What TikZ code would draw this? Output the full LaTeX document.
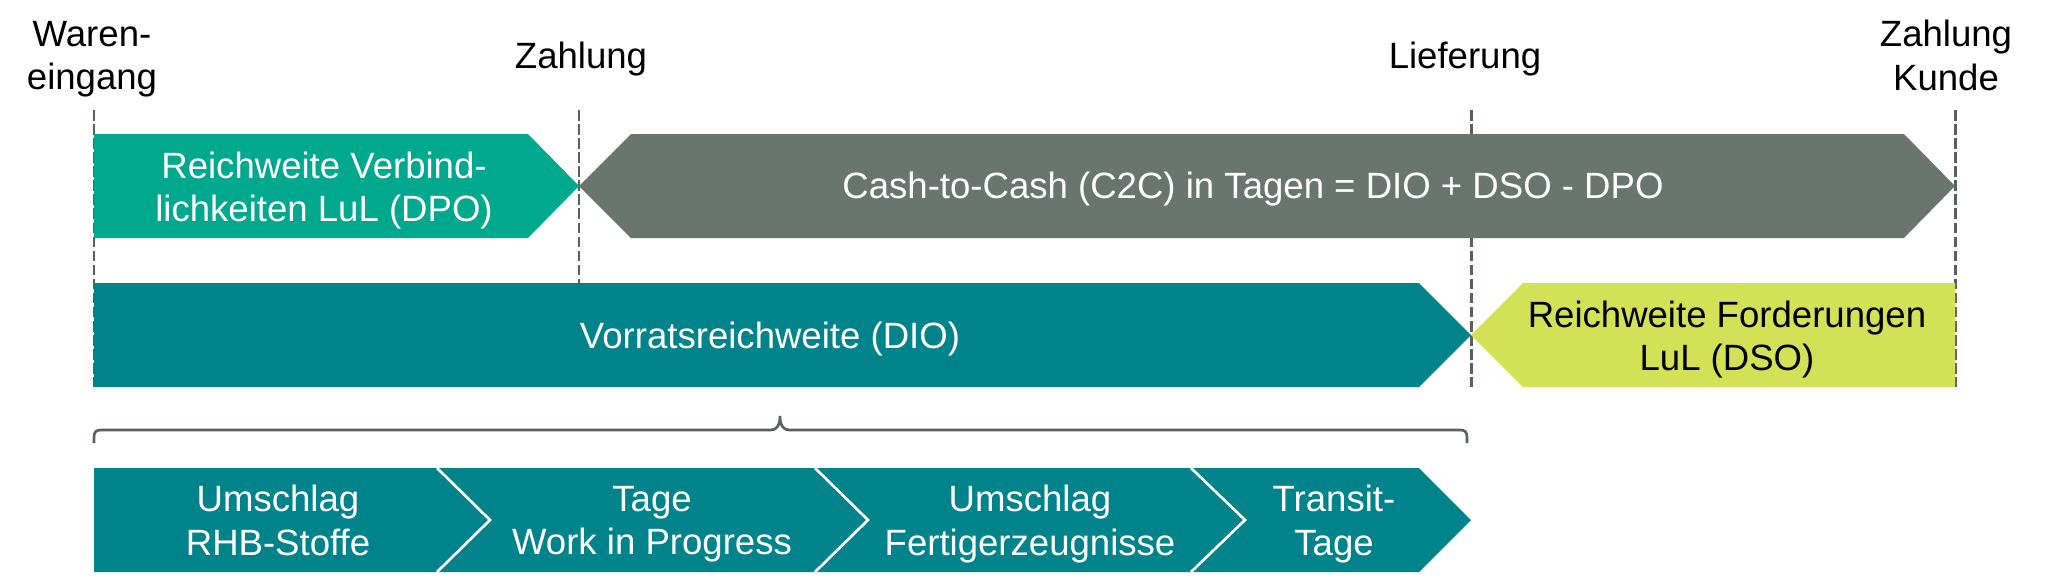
\documentclass[tikz,border=0pt]{standalone}
\usepackage{fontspec}
\setmainfont{Liberation Sans}
\definecolor{dpocol}{RGB}{0,168,142}
\definecolor{ctwoc}{RGB}{107,117,112}
\definecolor{diocol}{RGB}{0,131,138}
\definecolor{dsocol}{RGB}{211,225,86}
\definecolor{guide}{RGB}{86,98,94}
\tikzset{
  lbl/.style={inner sep=0pt, font=\fontsize{10.4pt}{12.4pt}\selectfont, align=center},
  wlbl/.style={lbl, text=white},
  blbl/.style={lbl, text=black},
  guideline/.style={draw=guide, line width=0.85pt, dash pattern=on 3pt off 1pt},
  divider/.style={draw=white, line width=0.75pt},
  bracestyle/.style={draw=guide, line width=0.75pt}
}
\begin{document}
\begin{tikzpicture}[x=0.01cm, y=-0.01cm]
\useasboundingbox (0,0) rectangle (2047,587);
% guide lines
\coordinate (g1t) at (94,110);  \coordinate (g1b) at (94,387);
\coordinate (g2t) at (579,110); \coordinate (g2b) at (579,387);
\coordinate (g3t) at (1471,110); \coordinate (g3b) at (1471,387);
\coordinate (g4t) at (1955,110); \coordinate (g4b) at (1955,387);
\draw[guideline] (g1t) -- (g1b);
\draw[guideline] (g2t) -- (g2b);
\draw[guideline] (g3t) -- (g3b);
\draw[guideline] (g4t) -- (g4b);
% top row
\fill[dpocol] (94,134) -- (528,134) -- (579,186) -- (528,238) -- (94,238) -- cycle;
\fill[ctwoc] (631,134) -- (1904,134) -- (1955,186) -- (1904,238) -- (631,238) -- (579,186) -- cycle;
% middle row
\fill[diocol] (94,283) -- (1419,283) -- (1471,335) -- (1419,387) -- (94,387) -- cycle;
\fill[dsocol] (1523,283) -- (1955,283) -- (1955,387) -- (1523,387) -- (1471,335) -- cycle;
% brace
\draw[bracestyle] (94,443) -- (94,437) .. controls (94,432) and (96,430) .. (101,430) -- (770,430)
  .. controls (778,430) and (780,424) .. (780,416)
  .. controls (780,424) and (782,430) .. (790,430) -- (1460,430)
  .. controls (1465,430) and (1467,432) .. (1467,437) -- (1467,443);
% bottom chevrons
\fill[diocol] (94,468) -- (437,468) -- (490,520) -- (437,572) -- (94,572) -- cycle;
\fill[diocol] (437,468) -- (815,468) -- (868,520) -- (815,572) -- (437,572) -- (490,520) -- cycle;
\fill[diocol] (815,468) -- (1191,468) -- (1245,520) -- (1191,572) -- (815,572) -- (868,520) -- cycle;
\fill[diocol] (1191,468) -- (1419,468) -- (1471,520) -- (1419,572) -- (1191,572) -- (1245,520) -- cycle;
\draw[divider] (437,468) -- (490,520) -- (437,572);
\draw[divider] (815,468) -- (868,520) -- (815,572);
\draw[divider] (1191,468) -- (1245,520) -- (1191,572);
% labels
\node[blbl] (we) at (92,59.4) {Waren-\\eingang};
\node[blbl, anchor=base] (za) at (581,68) {Zahlung};
\node[blbl, anchor=base] (li) at (1465,68) {Lieferung};
\node[blbl] (zk) at (1946,55.7) {Zahlung\\Kunde};
\node[wlbl] (dpo) at (324,190.4) {Reichweite Verbind-\\lichkeiten LuL (DPO)};
\node[wlbl, anchor=base] (c2c) at (1253,198) {Cash-to-Cash (C2C) in Tagen = DIO + DSO - DPO};
\node[wlbl, anchor=base] (dio) at (770,348) {Vorratsreichweite (DIO)};
\node[blbl] (dso) at (1727,339.5) {Reichweite Forderungen\\LuL (DSO)};
\node[wlbl] (rhb) at (278,520.6) {Umschlag\\RHB-Stoffe};
\node[wlbl] (wip) at (652,524.3) {Tage\\Work in Progress};
\node[wlbl] (fe) at (1030,524.3) {Umschlag\\Fertigerzeugnisse};
\node[wlbl] (tt) at (1334,524.3) {Transit-\\Tage};
\end{tikzpicture}
\end{document}
